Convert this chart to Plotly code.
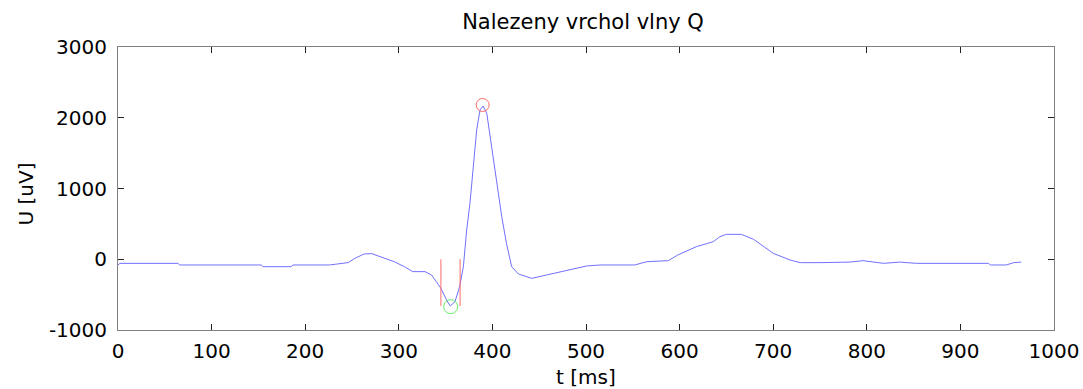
import plotly.graph_objects as go

# ECG signal
t_ms = [0, 2, 64, 66, 153, 155, 185, 187, 226, 237, 246, 253, 263, 271, 281, 295,
        306, 315, 328, 335, 340, 345, 351, 355, 360, 365, 369, 372.5, 376, 379.6,
        383.2, 386.8, 390, 394, 399, 403, 406, 410, 415, 420.6, 427.7, 442, 458,
        479, 500.7, 515, 552, 565, 588, 598, 618, 636, 643, 650, 666, 679, 690,
        700, 718, 729, 750, 782, 796, 807, 818, 835, 853, 930, 932, 949, 957, 965]
u_uv = [-81, -58, -58, -81, -81, -105, -105, -81, -81, -58, -47, 13, 74, 80, 36, -34,
        -105, -175, -175, -222, -317, -411, -576, -661, -600, -388, -105, 413, 790, 1356,
        1827, 2110, 2166, 2063, 1590, 1261, 932, 602, 225, -105, -208, -270, -222,
        -161, -95, -81, -81, -34, -20, 60, 178, 248, 319, 352, 352, 282, 178,
        84, -11, -48, -48, -40, -20, -44, -58, -40, -58, -58, -81, -81, -48, -40]
assert len(t_ms) == len(u_uv)

# search window for Q (red vertical lines)
win_t = [345, 365.5]
win_top = 0
win_bottom = -660

# detected points
q_t, q_u = [355.4], [-670]
r_t, r_u = [389.6], [2180]

x_ticks = [0, 100, 200, 300, 400, 500, 600, 700, 800, 900, 1000]
y_ticks = [-1000, 0, 1000, 2000, 3000]

fig = go.Figure()
fig.add_trace(go.Scatter(x=t_ms, y=u_uv, mode="lines",
                         line=dict(color="#7070ff", width=1), showlegend=False))
for wt in win_t:
    fig.add_trace(go.Scatter(x=[wt, wt], y=[win_top, win_bottom], mode="lines",
                             line=dict(color="#ff6a6a", width=1), showlegend=False))
fig.add_trace(go.Scatter(x=q_t, y=q_u, mode="markers",
                         marker=dict(symbol="circle-open", size=14, color="#66ee66",
                                     line=dict(width=1, color="#66ee66")),
                         showlegend=False))
fig.add_trace(go.Scatter(x=r_t, y=r_u, mode="markers",
                         marker=dict(symbol="circle-open", size=13, color="#ff6a6a",
                                     line=dict(width=1, color="#ff6a6a")),
                         showlegend=False))

font_family = "DejaVu Sans, sans-serif"
W, H = 1083, 389
ML, MR, MT, MB = 118, 29, 47, 59
fig.update_layout(
    width=W, height=H,
    margin=dict(l=ML, r=MR, t=MT, b=MB, autoexpand=False),
    paper_bgcolor="white", plot_bgcolor="white",
    font=dict(family=font_family, color="black", size=20),
    title=dict(text="Nalezeny vrchol vlny Q", x=583 / W, xanchor="center",
               y=1 - 22 / H, yanchor="middle", font=dict(size=21, family=font_family)),
    annotations=[
        dict(text="t [ms]", xref="paper", yref="paper", x=0.5, y=0,
             xanchor="center", yanchor="middle", yshift=-(377 - (H - MB)),
             showarrow=False, font=dict(size=20)),
        dict(text="U [uV]", xref="paper", yref="paper", x=0, y=0.5,
             xanchor="center", yanchor="middle", xshift=-(ML - 25), yshift=-6,
             textangle=-90, showarrow=False, font=dict(size=20)),
    ],
)
fig.update_xaxes(
    range=[0, 1000], tickvals=x_ticks, ticktext=[str(v) for v in x_ticks],
    showgrid=False, zeroline=False, automargin=False,
    showline=True, linecolor="#7f7f7f", linewidth=1, mirror="allticks",
    ticks="inside", ticklen=6, tickcolor="#222", tickwidth=1,
    ticklabelstandoff=3, tickfont=dict(size=20),
)
fig.update_yaxes(
    range=[-1000, 3000], tickvals=y_ticks, ticktext=[str(v) for v in y_ticks],
    showgrid=False, zeroline=False, automargin=False,
    showline=True, linecolor="#7f7f7f", linewidth=1, mirror="allticks",
    ticks="inside", ticklen=6, tickcolor="#222", tickwidth=1,
    ticklabelstandoff=6, tickfont=dict(size=20),
)

fig.write_html(
    "out.html",
    config={"displayModeBar": False},
    post_script="document.body.style.margin='0px';document.body.style.overflow='hidden';",
)
